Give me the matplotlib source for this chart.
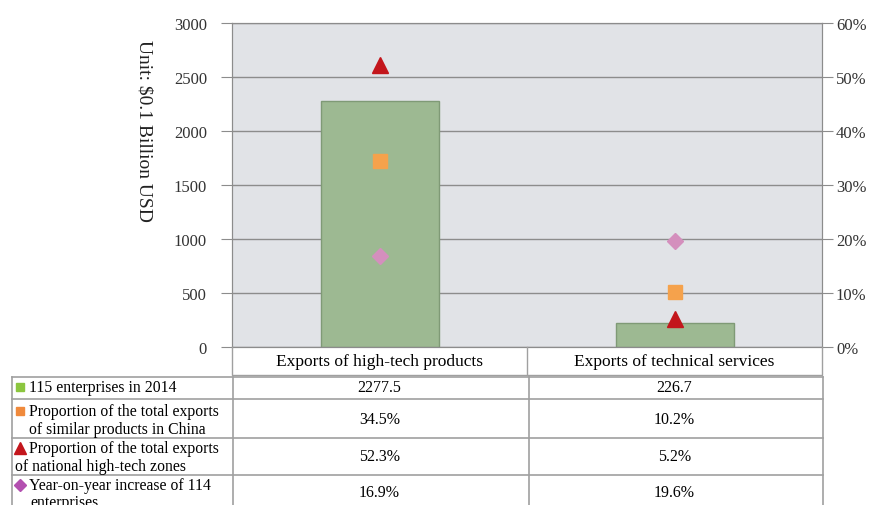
import matplotlib as mpl
mpl.use('Agg')
import matplotlib.pyplot as plt
import numpy as np

plt.rcParams['font.family'] = ['Liberation Serif', 'DejaVu Serif']

# data
categories = ['Exports of high-tech products', 'Exports of technical services']
exports_2014 = [2277.5, 226.7]
share_china = [34.5, 10.2]
share_zones = [52.3, 5.2]
yoy_increase = [16.9, 19.6]

row_labels = [['115 enterprises in 2014'],
              ['Proportion of the total exports', 'of similar products in China'],
              ['Proportion of the total exports', 'of national high-tech zones'],
              ['Year-on-year increase of 114', 'enterprises']]
row_values = [['%.1f' % v for v in exports_2014],
              ['%.1f%%' % v for v in share_china],
              ['%.1f%%' % v for v in share_zones],
              ['%.1f%%' % v for v in yoy_increase]]

W, H = 872, 506
fig = plt.figure(figsize=(W / 100, H / 100), dpi=100)

def fx(px):
    return px / W

def fy(py):
    return 1 - py / H

L, R, T, B = 232, 822, 24, 348
ax = fig.add_axes([fx(L), fy(B), fx(R - L), (B - T) / H])
ax.set_facecolor('#e1e3e7')
x = np.arange(len(categories))
ax.bar(x, exports_2014, width=0.4, color='#9db992', edgecolor='#7f9a76', linewidth=1, zorder=2)
ax.set_xlim(-0.5, 1.5)
ax.set_ylim(0, 3000)
ax.set_yticks(np.arange(0, 3001, 500))
ax.set_xticks([])
ax.grid(axis='y', color='#8c8c8c', linewidth=1, zorder=1)
ax.set_axisbelow(True)
for s in ax.spines.values():
    s.set_color('#8c8c8c')
ax.tick_params(axis='y', colors='#8c8c8c', length=8, labelcolor='#333333', labelsize=12, pad=10)

ax2 = ax.twinx()
ax2.set_ylim(0, 60)
ax2.set_yticks(np.arange(0, 61, 10))
ax2.set_yticklabels(['%d%%' % v for v in range(0, 61, 10)])
ax2.tick_params(axis='y', colors='#8c8c8c', length=8, labelcolor='#333333', labelsize=12, pad=2)
for s in ax2.spines.values():
    s.set_color('#8c8c8c')
ax2.plot(x, share_china, 's', color='#f5a24c', markersize=10, zorder=3)
ax2.plot(x, share_zones, '^', color='#c3161c', markersize=12, zorder=3)
ax2.plot(x, yoy_increase, 'D', color='#d48fbd', markersize=8, zorder=3)

fig.text(fx(144), fy(131), 'Unit: $0.1 Billion USD', rotation=-90, ha='center', va='center',
         fontsize=14, color='#222222')

# table drawn on an overlay axes in pixel coordinates
tab = fig.add_axes([0, 0, 1, 1])
tab.set_xlim(0, W)
tab.set_ylim(H, 0)
tab.axis('off')
lc = '#a0a0a0'

# header row
col_edges = [L, 527, R]
tab.plot([L, L, R, R], [B, 376, 376, B], color=lc, lw=1)
tab.plot([527, 527], [B, 376], color=lc, lw=1)
for i, c in enumerate(categories):
    tab.text((col_edges[i] + col_edges[i + 1]) / 2, 362, c, ha='center', va='center', fontsize=12.5)

# body rows
row_edges = [378, 400, 439, 476, 514]
tl, tr, tm = 12, 823, 529
for ye in row_edges[:-1]:
    tab.plot([tl, tr], [ye, ye], color=lc, lw=1.2)
for xe in [tl, L + 1, tm, tr]:
    tab.plot([xe, xe], [row_edges[0], H], color=lc, lw=1.2)

markers = [('s', '#8cc63f', 6), ('s', '#f08a3c', 6), ('^', '#c3161c', 8), ('D', '#b350b0', 6)]
line_y = [[388], [412, 430], [449, 467], [486, 503]]
line_x = [[29], [29, 29], [29, 15], [29, 30]]
value_y = [388, 420, 457, 493]
for i, lines in enumerate(row_labels):
    m, col, ms = markers[i]
    tab.plot(20, line_y[i][0], m, color=col, markersize=ms, clip_on=False)
    for k, ln in enumerate(lines):
        tab.text(line_x[i][k], line_y[i][k], ln, ha='left', va='center', fontsize=11.3)
    for j, v in enumerate(row_values[i]):
        cx = (col_edges[j] + col_edges[j + 1]) / 2
        tab.text(cx, value_y[i], v, ha='center', va='center', fontsize=11.5)

fig.savefig('out.png', dpi=100)
